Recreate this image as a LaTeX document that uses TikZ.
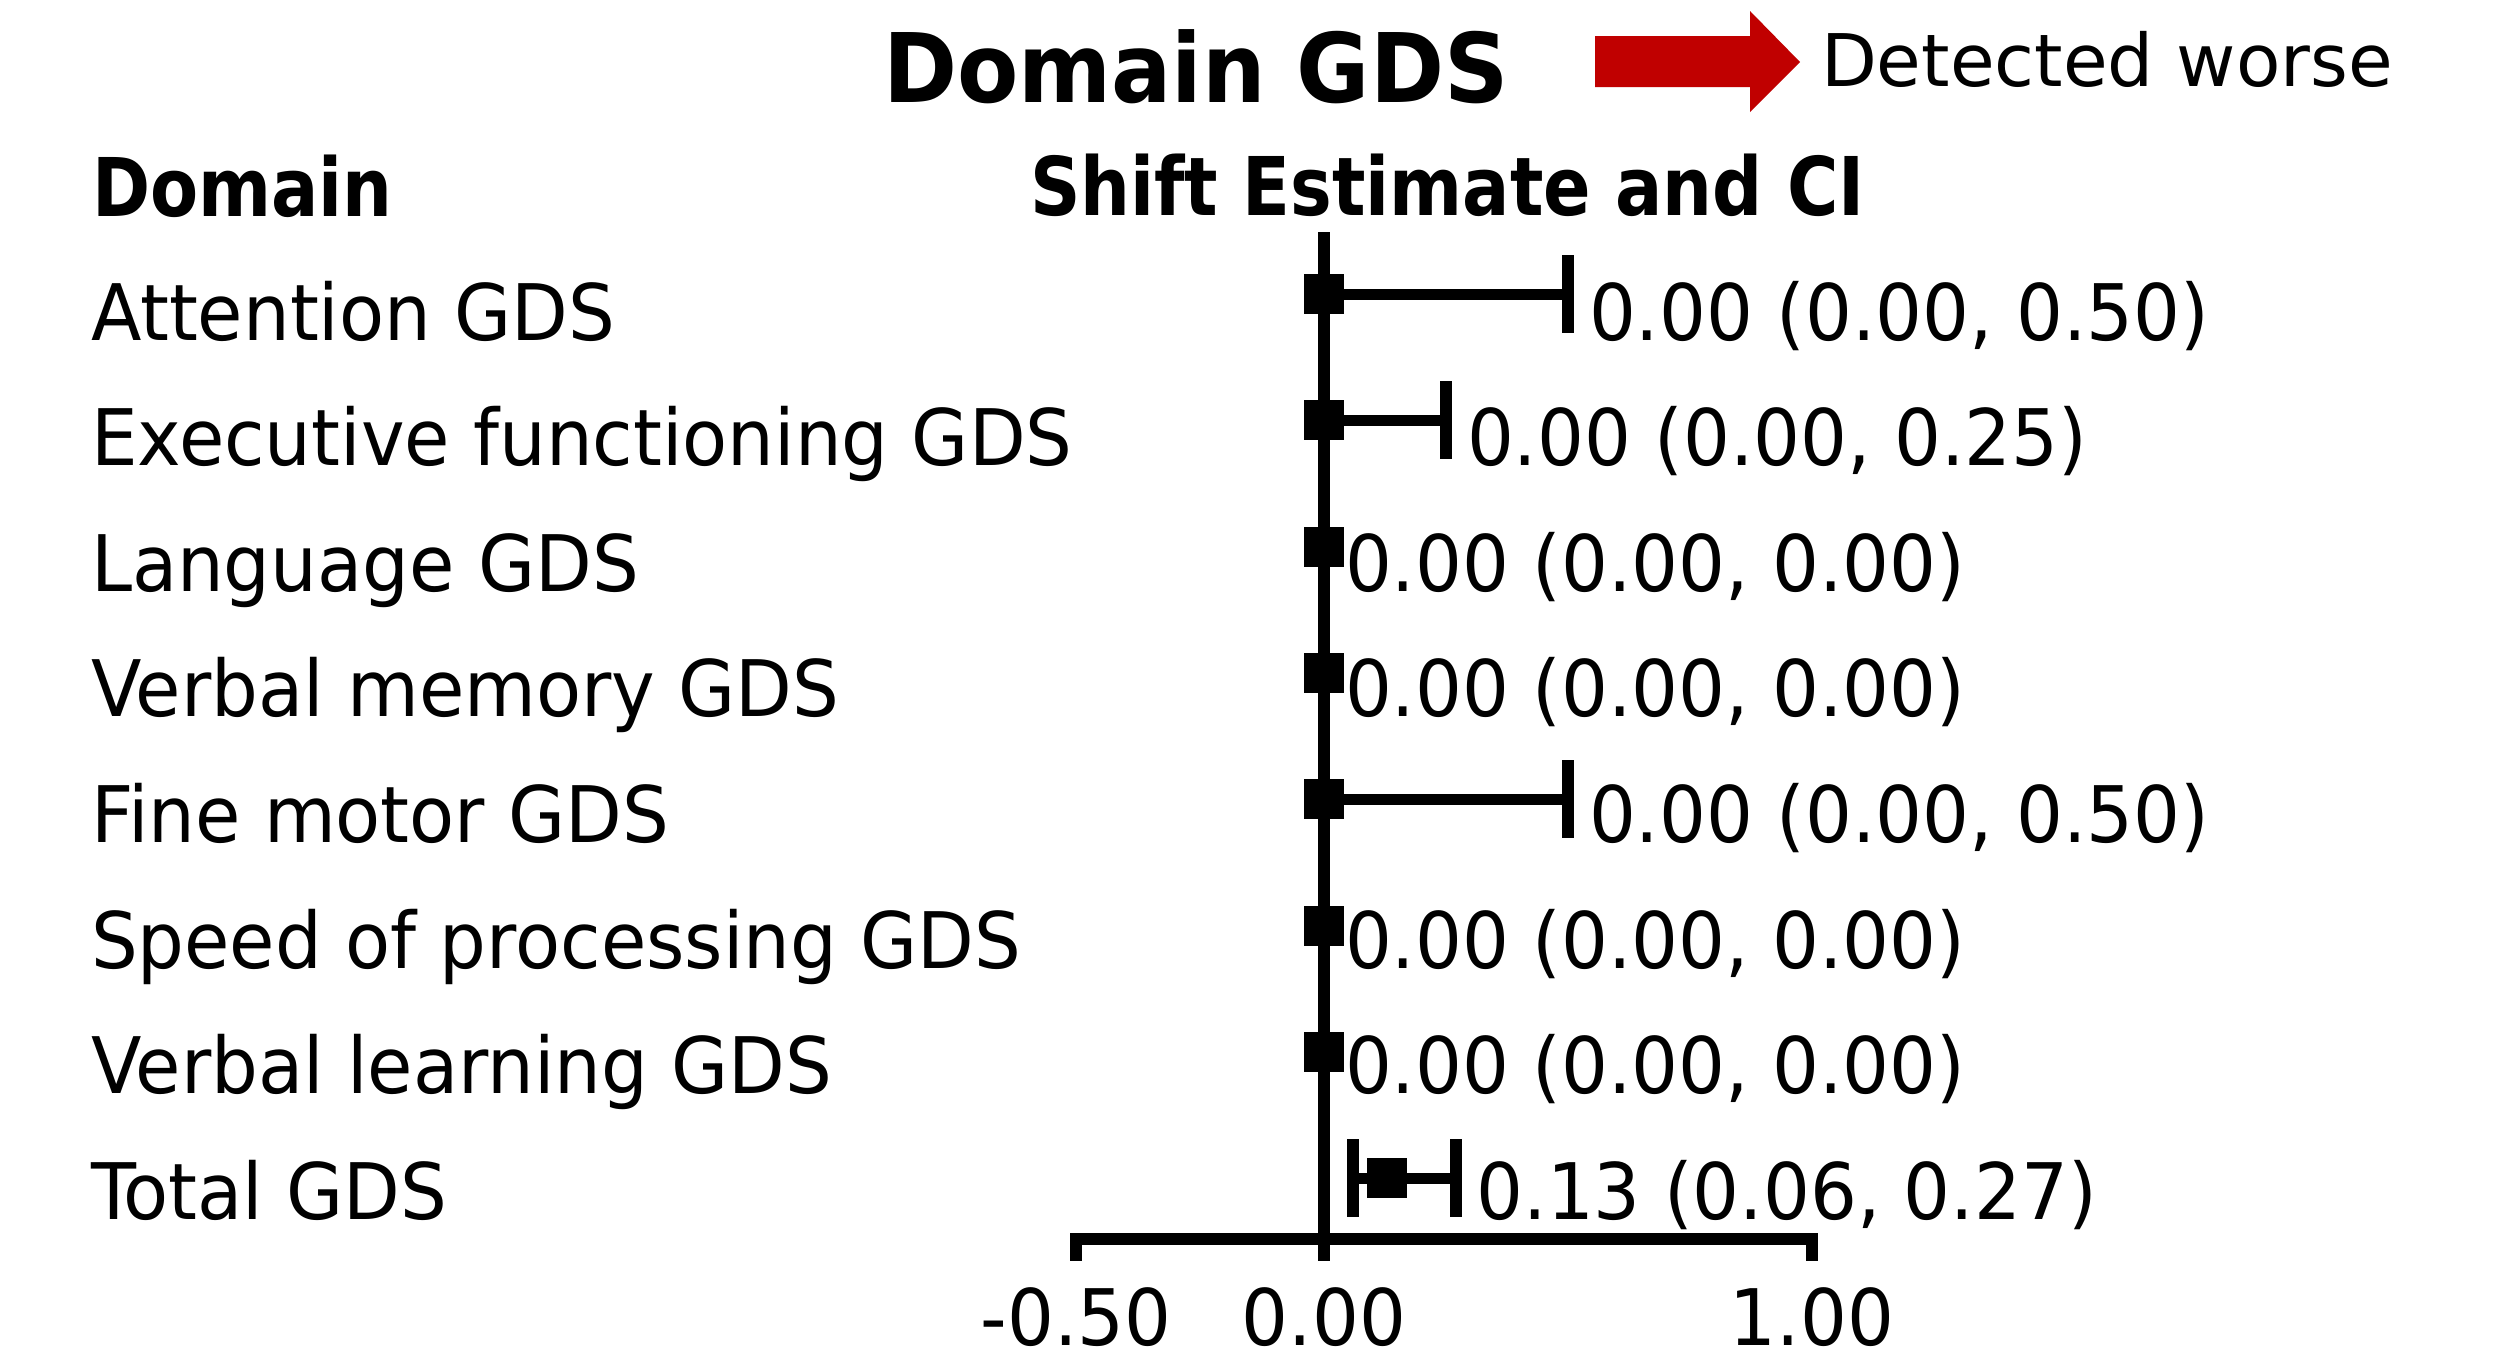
\documentclass[tikz,border=0pt]{standalone}
\usepackage{fontspec}
\setmainfont{DejaVu Sans}
\newfontfamily\rfont{DejaVu Sans}[FakeStretch=0.945]
\newfontfamily\hfont{DejaVu Sans}[FakeStretch=0.865]
\newfontfamily\tfont{DejaVu Sans}[FakeStretch=0.93]
\newfontfamily\dfont{DejaVu Sans}
\definecolor{arrowred}{RGB}{192,0,0}
\tikzset{
  txt/.style={inner sep=0pt,outer sep=0pt,anchor=base west},
  rowlab/.style={txt,font=\rfont\fontsize{39pt}{39pt}\selectfont},
  numlab/.style={txt,font=\rfont\fontsize{39pt}{39pt}\selectfont},
  axlab/.style={inner sep=0pt,outer sep=0pt,anchor=base,font=\rfont\fontsize{39pt}{39pt}\selectfont},
  headlab/.style={txt,font=\hfont\bfseries\fontsize{40.5pt}{40.5pt}\selectfont},
  titlelab/.style={txt,font=\tfont\bfseries\fontsize{48pt}{48pt}\selectfont},
  detlab/.style={txt,font=\dfont\fontsize{36.3pt}{36.3pt}\selectfont},
}
\begin{document}
\begin{tikzpicture}[x=0.5pt,y=-0.5pt]
\useasboundingbox (0,0) rectangle (2495,1362);
\fill[white] (0,0) rectangle (2495,1362);
% title and legend arrow
\node[titlelab] (title) at (883,102) {Domain GDS};
\fill[arrowred] (1595,36) -- (1750,36) -- (1750,11) -- (1800,62) -- (1750,112) -- (1750,87) -- (1595,87) -- cycle;
\node[detlab] (det) at (1821,86) {Detected worse};
% headers
\node[headlab] (hdom) at (92,216) {Domain};
\node[headlab] (hshift) at (1030,215) {Shift Estimate and CI};
% zero line and axis
\fill (1318,232) rectangle (1330,1261);
\fill (1070,1233) rectangle (1818,1245);
\fill (1070,1233) rectangle (1082,1261);
\fill (1806,1233) rectangle (1818,1261);
\node[axlab] (ax1) at (1076,1345) {-0.50};
\node[axlab] (ax2) at (1324,1345) {0.00};
\node[axlab] (ax3) at (1812,1345) {1.00};
% rows
\foreach \i/\lab/\est/\lo/\hi/\txt in {
  0/Attention GDS/0/0/0.5/{0.00 (0.00, 0.50)},
  1/Executive functioning GDS/0/0/0.25/{0.00 (0.00, 0.25)},
  2/Language GDS/0/0/0/{0.00 (0.00, 0.00)},
  3/Verbal memory GDS/0/0/0/{0.00 (0.00, 0.00)},
  4/Fine motor GDS/0/0/0.5/{0.00 (0.00, 0.50)},
  5/Speed of processing GDS/0/0/0/{0.00 (0.00, 0.00)},
  6/Verbal learning GDS/0/0/0/{0.00 (0.00, 0.00)},
  7/Total GDS/0.13/0.06/0.27/{0.13 (0.06, 0.27)}}{
  \pgfmathsetmacro\ym{294+126.3*\i}
  \pgfmathsetmacro\yb{340+125.6*\i}
  \pgfmathsetmacro\xe{1324+488*\est}
  \pgfmathsetmacro\xl{1324+488*\lo}
  \pgfmathsetmacro\xh{1324+488*\hi}
  \fill (\xl,\ym-5.5) rectangle (\xh,\ym+5.5);
  \fill (\xl-6,\ym-39) rectangle (\xl+6,\ym+39);
  \fill (\xh-6,\ym-39) rectangle (\xh+6,\ym+39);
  \fill (\xe-20,\ym-20) rectangle (\xe+20,\ym+20);
  \node[rowlab] (lab\i) at (91,\yb) {\lab};
  \node[numlab] (num\i) at (\xh+21,\yb) {\txt};
}
\end{tikzpicture}
\end{document}
